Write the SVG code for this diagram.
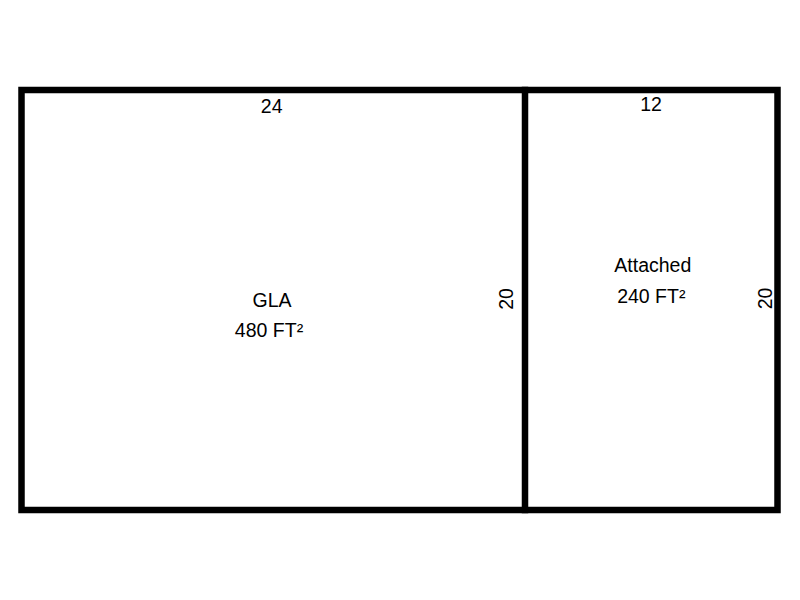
<svg xmlns="http://www.w3.org/2000/svg" width="800" height="600" viewBox="0 0 800 600">
<style>
.wall{fill:none;stroke:#000;stroke-width:6.5;stroke-linecap:square;stroke-linejoin:miter}
text{font-family:"Liberation Sans",Arial,sans-serif;font-size:19.5px;fill:#000;text-anchor:middle}
</style>
<rect width="800" height="600" fill="#fff"/>
<g id="connectors">
<rect class="wall" x="21.5" y="90" width="756" height="420"/>
<line class="wall" x1="525" y1="90" x2="525" y2="510"/>
</g>
<g id="gla">
<text x="271.7" y="112.7">24</text>
<text x="272" y="306.5">GLA</text>
<text x="269" y="336.5">480 FT²</text>
<text transform="translate(513.3,299) rotate(-90)" x="0" y="0">20</text>
</g>
<g id="attached">
<text x="651" y="110.7">12</text>
<text x="652.8" y="272">Attached</text>
<text x="651.3" y="303">240 FT²</text>
<text transform="translate(771.5,298.5) rotate(-90)" x="0" y="0">20</text>
</g>
</svg>
